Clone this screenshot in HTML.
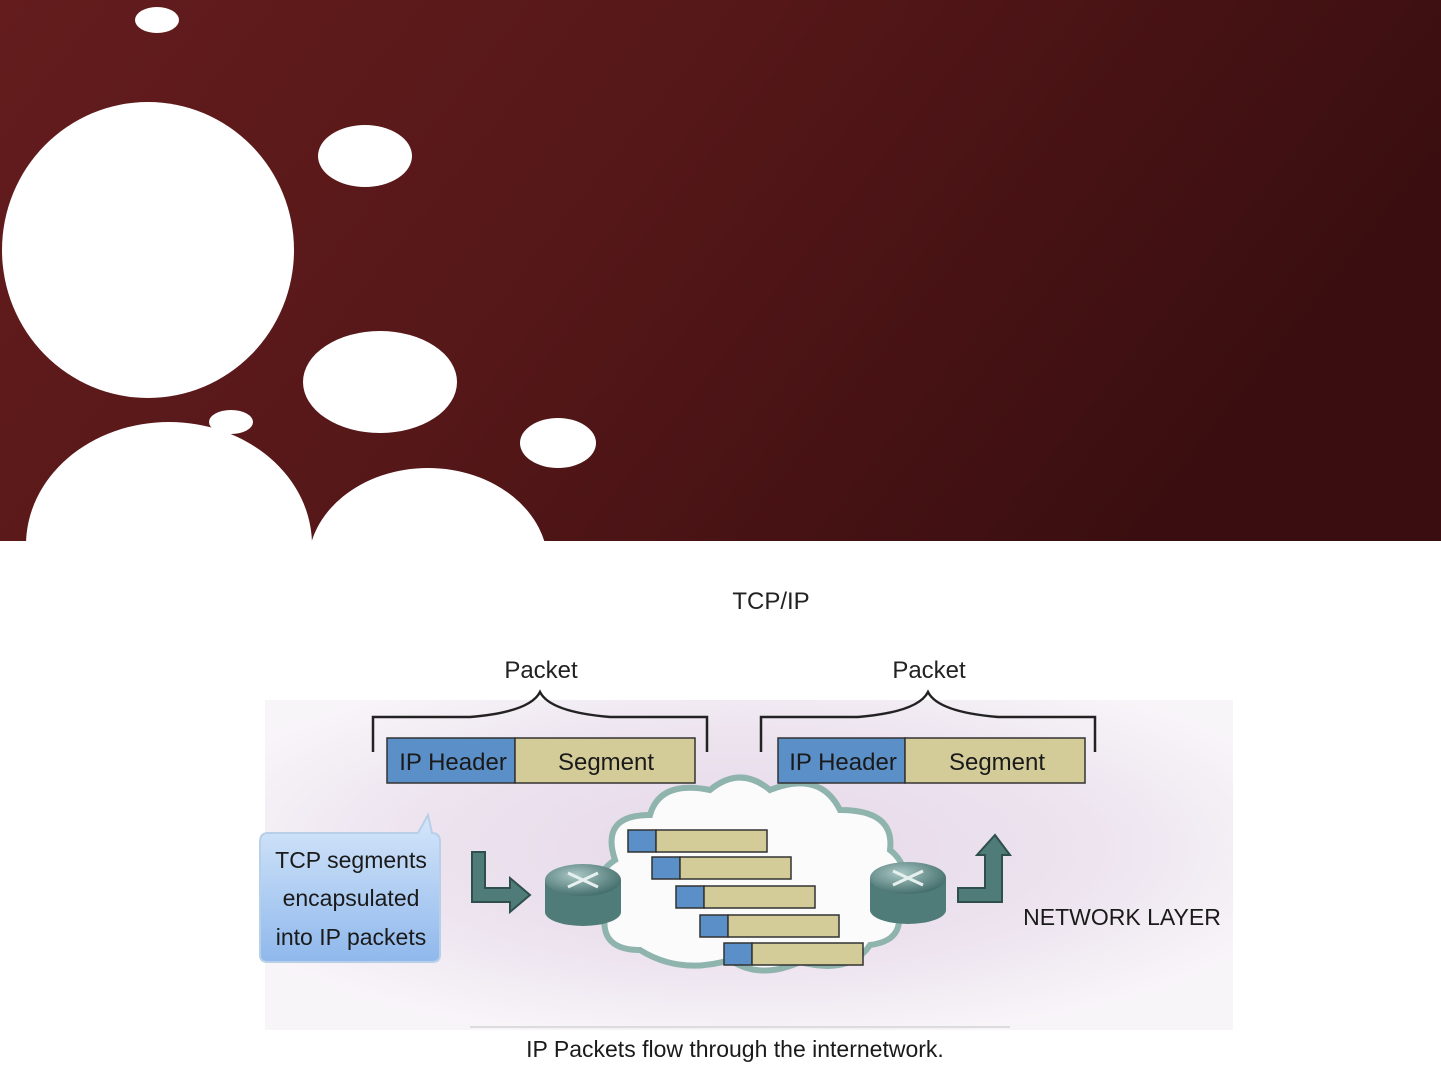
<!DOCTYPE html>
<html><head><meta charset="utf-8"><style>
body{margin:0;width:1441px;height:1081px;overflow:hidden;background:#fff;font-family:"Liberation Sans",sans-serif;}
</style></head><body>
<svg width="1441" height="1081" viewBox="0 0 1441 1081" xmlns="http://www.w3.org/2000/svg">
<defs>
<linearGradient id="bg" x1="0" y1="0" x2="1" y2="0.3">
<stop offset="0" stop-color="#641c1d"/><stop offset="0.5" stop-color="#551718"/><stop offset="1" stop-color="#3a0e10"/></linearGradient>
<radialGradient id="dg" cx="0.5" cy="0.45" r="0.6">
<stop offset="0" stop-color="#e6d8e8"/><stop offset="0.6" stop-color="#ede4ef"/><stop offset="1" stop-color="#f8f5f9"/></radialGradient>
<linearGradient id="cb" x1="0" y1="0" x2="0" y2="1"><stop offset="0" stop-color="#d5e6fa"/><stop offset="1" stop-color="#8fb8ec"/></linearGradient>
<radialGradient id="rt" cx="0.4" cy="0.35" r="0.7"><stop offset="0" stop-color="#a9c7c4"/><stop offset="1" stop-color="#3f6a68"/></radialGradient>
<clipPath id="top"><rect x="0" y="0" width="1441" height="541"/></clipPath>
</defs>
<rect x="0" y="0" width="1441" height="541" fill="url(#bg)"/>
<g fill="#fff" clip-path="url(#top)">
<ellipse cx="157" cy="20" rx="22" ry="13"/>
<ellipse cx="148" cy="250" rx="146" ry="148"/>
<ellipse cx="365" cy="156" rx="47" ry="31"/>
<ellipse cx="380" cy="382" rx="77" ry="51"/>
<ellipse cx="558" cy="443" rx="38" ry="25"/>
<ellipse cx="231" cy="422" rx="22" ry="12"/>
<ellipse cx="169" cy="545" rx="143" ry="123"/>
<ellipse cx="428" cy="565" rx="120" ry="97"/>
</g>
<rect x="265" y="700" width="968" height="330" fill="url(#dg)"/>
<line x1="470" y1="1027" x2="1010" y2="1027" stroke="#dcdcdc" stroke-width="2"/>
<text x="771" y="609" font-size="24" text-anchor="middle" fill="#222">TCP/IP</text>
<text x="541" y="678" font-size="24" text-anchor="middle" fill="#222">Packet</text>
<text x="929" y="678" font-size="24" text-anchor="middle" fill="#222">Packet</text>
<g fill="none" stroke="#222" stroke-width="2.5">
<path d="M373 752 V717 H470 Q530 712 540 692 Q550 712 610 717 H707 V752"/>
<path d="M761 752 V717 H858 Q918 712 928 692 Q938 712 998 717 H1095 V752"/>
</g>
<path d="M640 950 Q600 950 605 915 Q585 880 615 860 Q600 815 650 815 Q660 780 710 790 Q740 765 770 790 Q820 770 840 810 Q895 810 890 850 Q915 870 895 900 Q910 940 870 945 Q850 975 800 962 Q760 980 730 960 Q680 975 640 950Z" fill="#fbfbfb" stroke="#8fb3ad" stroke-width="6"/>
<g stroke="#333" stroke-width="1.5">
<rect x="387" y="738" width="128" height="45" fill="#5b8fc8"/><rect x="515" y="738" width="180" height="45" fill="#d4cc98"/>
<rect x="778" y="738" width="127" height="45" fill="#5b8fc8"/><rect x="905" y="738" width="180" height="45" fill="#d4cc98"/>
<rect x="628" y="830" width="28" height="22" fill="#5b8fc8"/><rect x="656" y="830" width="111" height="22" fill="#d4cc98"/>
<rect x="652" y="857" width="28" height="22" fill="#5b8fc8"/><rect x="680" y="857" width="111" height="22" fill="#d4cc98"/>
<rect x="676" y="886" width="28" height="22" fill="#5b8fc8"/><rect x="704" y="886" width="111" height="22" fill="#d4cc98"/>
<rect x="700" y="915" width="28" height="22" fill="#5b8fc8"/><rect x="728" y="915" width="111" height="22" fill="#d4cc98"/>
<rect x="724" y="943" width="28" height="22" fill="#5b8fc8"/><rect x="752" y="943" width="111" height="22" fill="#d4cc98"/>
</g>
<g font-size="24" fill="#1a1a1a" text-anchor="middle">
<text x="453" y="770">IP Header</text><text x="606" y="770">Segment</text>
<text x="843" y="770">IP Header</text><text x="997" y="770">Segment</text>
</g>
<g>
<path d="M545 880 V912 A38 14 0 0 0 621 912 V880Z" fill="#4f7b78"/>
<ellipse cx="583" cy="880" rx="38" ry="16" fill="url(#rt)"/>
<path d="M568 873 L598 887 M598 873 L568 887" stroke="#e6f0ef" stroke-width="3"/>
<path d="M870 878 V910 A38 14 0 0 0 946 910 V878Z" fill="#4f7b78"/>
<ellipse cx="908" cy="878" rx="38" ry="16" fill="url(#rt)"/>
<path d="M893 871 L923 885 M923 871 L893 885" stroke="#e6f0ef" stroke-width="3"/>
</g>
<path d="M472 852 H485 V888 H510 V878 L530 895 L510 912 V902 H472Z" fill="#4f7b78" stroke="#2f4f4d" stroke-width="2"/>
<path d="M958 902 V888 H985 V855 H977 L995 835 L1010 855 H1002 V902Z" fill="#4f7b78" stroke="#2f4f4d" stroke-width="2"/>
<path d="M268 833 H418 L428 815 L432 833 Q440 833 440 842 V955 Q440 962 432 962 H268 Q260 962 260 955 V842 Q260 833 268 833Z" fill="url(#cb)" stroke="#b8cfe8" stroke-width="2"/>
<g font-size="23" fill="#1a1a1a" text-anchor="middle">
<text x="351" y="868">TCP segments</text>
<text x="351" y="906">encapsulated</text>
<text x="351" y="945">into IP packets</text>
</g>
<text x="1122" y="925" font-size="23" text-anchor="middle" fill="#1a1a1a">NETWORK LAYER</text>
<text x="735" y="1057" font-size="23" text-anchor="middle" fill="#1a1a1a">IP Packets flow through the internetwork.</text>
</svg>
</body></html>
